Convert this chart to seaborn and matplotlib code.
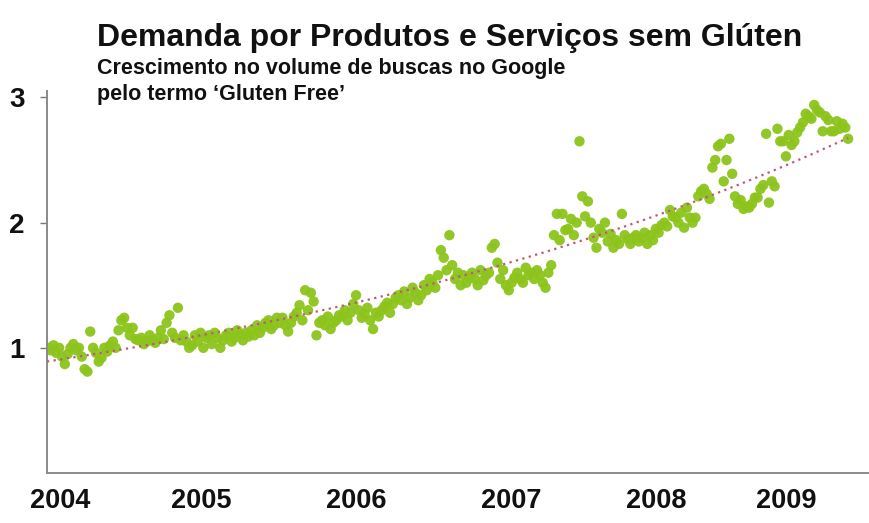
import numpy as np
import pandas as pd
import matplotlib
matplotlib.use("Agg")
import matplotlib.pyplot as plt
import seaborn as sns

# weekly search volume index (Jan 2004 = 1)
vals_2004 = [1.0, 0.98, 1.02, 0.96, 1.0, 0.93, 0.87, 0.95, 1.0, 1.03,
             0.98, 1.0, 0.93, 0.83, 0.81, 1.13, 1.0, 0.96, 0.89, 0.92,
             1.0, 0.97, 1.02, 1.05, 1.0, 1.14, 1.22, 1.24, 1.16, 1.1,
             1.16, 1.07, 1.06, 1.08, 1.03, 1.05, 1.1, 1.06, 1.04, 1.08,
             1.14, 1.07, 1.2, 1.26, 1.12, 1.08, 1.32, 1.06, 1.1, 1.05, 1.0, 1.02]
vals_2005 = [1.1, 1.05, 1.12, 1.0, 1.08, 1.1, 1.03, 1.12, 1.08, 1.0,
             1.06, 1.1, 1.12, 1.05, 1.08, 1.14, 1.1, 1.06, 1.12, 1.09,
             1.14, 1.1, 1.18, 1.12, 1.16, 1.2, 1.22, 1.15, 1.18, 1.24,
             1.2, 1.24, 1.18, 1.13, 1.2, 1.25, 1.28, 1.34, 1.22, 1.46,
             1.3, 1.44, 1.37, 1.1, 1.2, 1.22, 1.18, 1.25, 1.15, 1.2, 1.22, 1.26]
vals_2006 = [1.25, 1.3, 1.22, 1.28, 1.35, 1.42, 1.3, 1.24, 1.27, 1.32,
             1.22, 1.15, 1.28, 1.25, 1.3, 1.33, 1.36, 1.28, 1.35, 1.4,
             1.42, 1.38, 1.45, 1.35, 1.4, 1.48, 1.44, 1.38, 1.42, 1.5,
             1.46, 1.55, 1.52, 1.48, 1.58, 1.78, 1.72, 1.62, 1.9, 1.66,
             1.55, 1.6, 1.5, 1.58, 1.52, 1.56, 1.6, 1.55, 1.5, 1.62, 1.54, 1.58]
vals_2007 = [1.6, 1.8, 1.83, 1.68, 1.55, 1.62, 1.5, 1.46, 1.52, 1.56,
             1.6, 1.55, 1.52, 1.64, 1.58, 1.6, 1.55, 1.62, 1.58, 1.52,
             1.48, 1.6, 1.66, 1.9, 2.07, 1.86, 2.07, 1.94, 1.95, 2.03,
             1.9, 2.0, 2.65, 2.21, 2.05, 2.17, 2.0, 1.88, 1.8, 1.95,
             1.92, 2.0, 1.85, 1.91, 1.8, 1.86, 1.83, 2.07, 1.9, 1.87, 1.83, 1.88]
vals_2008 = [1.9, 1.85, 1.88, 1.92, 1.83, 1.9, 1.86, 1.95, 1.92, 1.98,
             2.0, 1.97, 2.1, 2.05, 2.04, 2.0, 2.08, 1.96, 2.12, 2.04,
             2.0, 2.04, 2.21, 2.25, 2.27, 2.23, 2.19, 2.44, 2.5, 2.61,
             2.63, 2.33, 2.5, 2.67, 2.39, 2.21, 2.15, 2.18, 2.11, 2.13,
             2.12, 2.15, 2.2, 2.2, 2.27, 2.3, 2.71, 2.16, 2.33, 2.29, 2.75, 2.65]
vals_2009 = [2.65, 2.53, 2.7, 2.62, 2.65, 2.72, 2.76, 2.8, 2.87, 2.85,
             2.83, 2.94, 2.9, 2.88, 2.73, 2.85, 2.82, 2.73, 2.73, 2.81,
             2.75, 2.79, 2.76, 2.67]

years = [2004, 2005, 2006, 2007, 2008, 2009]
year_labels = ["2004", "2005", "2006", "2007", "2008", "2009"]
y_ticks = [1, 2, 3]

title = "Demanda por Produtos e Serviços sem Glúten"
subtitle_1 = "Crescimento no volume de buscas no Google"
subtitle_2 = "pelo termo \u2018Gluten Free\u2019"

# build weekly table (x in decimal years)
rows = []
for yr, vals in zip(years, [vals_2004, vals_2005, vals_2006, vals_2007, vals_2008, vals_2009]):
    for i, v in enumerate(vals):
        rows.append({"t": yr + (i + 0.3) / 52.0, "volume": v})
df = pd.DataFrame(rows)

# exponential trend fitted on the data
coef = np.polyfit(df["t"] - 2004, np.log(df["volume"]), 1)
trend = pd.DataFrame({"t": np.linspace(2004.0, df["t"].max(), 200)})
trend["volume"] = np.exp(np.polyval(coef, trend["t"] - 2004))

sns.set_style("white")
plt.rcParams["font.family"] = ["Liberation Sans", "DejaVu Sans"]

fig = plt.figure(figsize=(8.7, 5.23), dpi=100)
ax = fig.add_axes([0.054, 0.0956, 0.944, 0.73])

sns.scatterplot(data=df, x="t", y="volume", ax=ax, color="#8cc41c",
                s=56, edgecolor="none", alpha=0.95, zorder=2)
sns.lineplot(data=trend, x="t", y="volume", ax=ax, color="#c2557a",
             linestyle=(0, (1, 2)), linewidth=1.6, zorder=3)

ax.set_xlim(2004.0, 2009.585)
ax.set_ylim(0, 3.05)
ax.set_xlabel("")
ax.set_ylabel("")

# year labels sit slightly right of the year start, as in the source slide
label_offsets = [0.09, 0.05, 0.10, 0.16, 0.14, 0.03]
ax.set_xticks([y + o for y, o in zip(years, label_offsets)])
ax.set_xticklabels(year_labels, fontsize=19.5, fontweight="bold", color="#111111")
ax.tick_params(axis="x", length=0, pad=11)

ax.set_yticks(y_ticks)
ax.set_yticklabels([str(v) for v in y_ticks], fontsize=20, fontweight="bold", color="#111111")
ax.tick_params(axis="y", length=5, width=1, color="#777777", pad=11, left=True)

for side in ["top", "right"]:
    ax.spines[side].set_visible(False)
for side in ["left", "bottom"]:
    ax.spines[side].set_color("#8a8a8a")
    ax.spines[side].set_linewidth(1.4)

fig.text(0.111, 0.912, title, fontsize=23, fontweight="bold", va="baseline", color="#111111")
fig.text(0.111, 0.859, subtitle_1, fontsize=15.5, fontweight="bold", va="baseline", color="#111111")
fig.text(0.111, 0.808, subtitle_2, fontsize=15.5, fontweight="bold", va="baseline", color="#111111")

fig.savefig("out.png", dpi=100)
